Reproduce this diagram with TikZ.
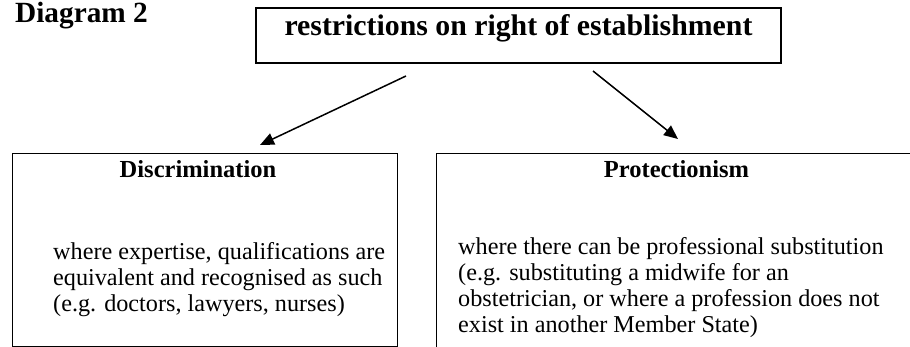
\documentclass[tikz,border=0pt]{standalone}
\usepackage{fontspec}
\setmainfont{Liberation Serif}
\usetikzlibrary{arrows.meta}
\begin{document}
\begin{tikzpicture}[x=1pt,y=-1pt,
  boxline/.style={draw=black,line width=1.3pt,inner sep=0pt},
  headtext/.style={font=\bfseries\fontsize{24.5}{25}\selectfont,anchor=base,inner sep=0pt},
  bodytext/.style={font=\fontsize{24.2}{25}\selectfont,align=left,anchor=north west,inner sep=0pt},
  arr/.style={line width=1.5pt,-{Triangle[length=14pt,width=12pt]}}]
\useasboundingbox (0,0) rectangle (910,347);
\clip (0,0) rectangle (910,347);
\node[font=\bfseries\fontsize{29.3}{30}\selectfont,anchor=base west,inner sep=0pt] (dtitle) at (15,23) {Diagram 2};
\node[boxline,line width=1.8pt,minimum width=525pt,minimum height=55pt,text height=8pt,text depth=8pt,
  font=\bfseries\fontsize{29.8}{30}\selectfont] (top) at (518.5,35.5) {restrictions on right of establishment};
\node[boxline,anchor=north west,minimum width=385pt,minimum height=193pt] (disc) at (12,153) {};
\node[boxline,anchor=north west,minimum width=600pt,minimum height=300pt] (prot) at (436,153) {};
\node[headtext] (dhead) at (198,178) {Discrimination};
\node[headtext] (phead) at (676.5,178) {Protectionism};
\node[bodytext] (dbody) at (53,242) {where expertise, qualifications are\\[1pt]equivalent and recognised as such\\[1pt](e.g. doctors, lawyers, nurses)};
\node[bodytext] (pbody) at (458,237.5) {where there can be professional substitution\\[1pt](e.g. substituting a midwife for an\\[1pt]obstetrician, or where a profession does not\\[1pt]exist in another Member State)};
\coordinate (ls) at (406,76);
\coordinate (le) at (260,145);
\coordinate (rs) at (593,71);
\coordinate (re) at (678,139);
\draw[arr] (ls) -- (le);
\draw[arr] (rs) -- (re);
\end{tikzpicture}
\end{document}
